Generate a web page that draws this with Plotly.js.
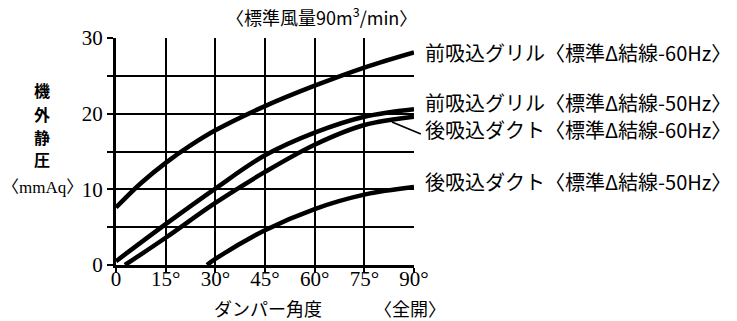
<!DOCTYPE html>
<html>
<head>
<meta charset="utf-8">
<script src="https://cdn.plot.ly/plotly-3.0.1.min.js"></script>
<style>html,body{margin:0;padding:0;background:#fff;}#chart{width:737px;height:321px;}</style>
</head>
<body>
<div id="chart"></div>
<script>
// Damper angle (degrees)
const xTickVals = [0, 15, 30, 45, 60, 75, 90];
const xTickText = ['0', '15°', '30°', '45°', '60°', '75°', '90°'];
const yTickVals = [0, 10, 20, 30];
const yTickText = ['0', '10', '20', '30'];

// 前吸込グリル〈標準Δ結線-60Hz〉
const frontGrille60x = [0, 7.5, 15, 22.5, 30, 45, 60, 75, 90];
const frontGrille60y = [7.6, 10.8, 13.5, 15.8, 17.8, 21.0, 23.7, 26.1, 28.1];
// 前吸込グリル〈標準Δ結線-50Hz〉
const frontGrille50x = [0, 15, 30, 45, 60, 75, 90];
const frontGrille50y = [0.5, 5.4, 10.1, 14.5, 17.5, 19.6, 20.6];
// 後吸込ダクト〈標準Δ結線-60Hz〉
const rearDuct60x = [2.7, 15, 30, 45, 60, 75, 90];
const rearDuct60y = [0, 3.6, 8.2, 12.3, 15.9, 18.5, 19.6];
// 後吸込ダクト〈標準Δ結線-50Hz〉
const rearDuct50x = [27.5, 30, 45, 60, 75, 90];
const rearDuct50y = [0, 0.8, 4.6, 7.4, 9.3, 10.3];

const seriesNames = [
  '前吸込グリル〈標準Δ結線-60Hz〉',
  '前吸込グリル〈標準Δ結線-50Hz〉',
  '後吸込ダクト〈標準Δ結線-60Hz〉',
  '後吸込ダクト〈標準Δ結線-50Hz〉'
];
const labelY = [0.934, 0.714, 0.595, 0.37];

// vertical y-axis title characters
const yTitleChars = ['機', '外', '静', '圧'];
const yTitleCharY = [0.769, 0.667, 0.566, 0.465];

const FONT = 'Liberation Serif, Noto Sans CJK JP, serif';
const CJK = 'Noto Sans CJK JP, Liberation Serif, serif';

const xs = [frontGrille60x, frontGrille50x, rearDuct60x, rearDuct50x];
const ys = [frontGrille60y, frontGrille50y, rearDuct60y, rearDuct50y];
const traces = xs.map((x, i) => ({
  x: x, y: ys[i], type: 'scatter', mode: 'lines', name: seriesNames[i],
  line: {color: '#000', width: 4.5, shape: 'spline', smoothing: 1},
  cliponaxis: true, hoverinfo: 'skip'
}));

const annotations = seriesNames.map((n, i) => ({
  text: n, xref: 'paper', yref: 'paper', x: 1.03, y: labelY[i],
  xanchor: 'left', yanchor: 'middle', showarrow: false,
  font: {family: CJK, size: 20, color: '#000'}
}));
annotations.push({
  text: '〈標準風量90m<sup>3</sup>/min〉', xref: 'paper', yref: 'paper', x: 0.69, y: 1.095,
  xanchor: 'center', yanchor: 'middle', showarrow: false,
  font: {family: CJK, size: 18, color: '#000'}
});
yTitleChars.forEach((c, i) => annotations.push({
  text: c, xref: 'paper', yref: 'paper', x: -0.248, y: yTitleCharY[i],
  xanchor: 'center', yanchor: 'middle', showarrow: false,
  font: {family: CJK, size: 16, color: '#000', weight: 700}
}));
annotations.push({
  text: '〈mmAq〉', xref: 'paper', yref: 'paper', x: -0.248, y: 0.34,
  xanchor: 'center', yanchor: 'middle', showarrow: false,
  font: {family: FONT, size: 17, color: '#000'}
});
annotations.push({
  text: 'ダンパー角度', xref: 'paper', yref: 'paper', x: 0.51, y: -0.19,
  xanchor: 'center', yanchor: 'middle', showarrow: false,
  font: {family: CJK, size: 18, color: '#000'}
});
annotations.push({
  text: '〈全開〉', xref: 'paper', yref: 'paper', x: 0.985, y: -0.19,
  xanchor: 'center', yanchor: 'middle', showarrow: false,
  font: {family: CJK, size: 18, color: '#000'}
});

// leader line from 後吸込ダクト 60Hz curve to its label
const shapes = [{
  type: 'line', xref: 'paper', yref: 'paper',
  x0: 0.926, y0: 0.630, x1: 1.023, y1: 0.577,
  line: {color: '#000', width: 1.8}
}];

const layout = {
  width: 737, height: 321,
  margin: {l: 116, r: 323, t: 38, b: 56, pad: 0},
  paper_bgcolor: '#fff', plot_bgcolor: '#fff',
  showlegend: false,
  xaxis: {
    range: [0, 90], tickvals: xTickVals, ticktext: xTickText,
    showgrid: true, gridcolor: '#000', gridwidth: 2,
    showline: true, linecolor: '#000', linewidth: 3, mirror: false,
    ticks: 'outside', ticklen: 5, tickwidth: 2, tickcolor: '#000',
    ticklabelstandoff: -12,
    zeroline: false, fixedrange: true,
    tickfont: {family: FONT, size: 21, color: '#000'}
  },
  yaxis: {
    range: [0, 30], tickvals: yTickVals, ticktext: yTickText,
    showgrid: true, gridcolor: '#000', gridwidth: 2,
    showline: true, linecolor: '#000', linewidth: 3, mirror: false,
    ticks: 'outside', ticklen: 6, tickwidth: 2, tickcolor: '#000',
    minor: {dtick: 5, ticks: 'outside', ticklen: 6, tickwidth: 2, tickcolor: '#000',
            showgrid: true, gridcolor: '#000', gridwidth: 2},
    zeroline: false, fixedrange: true,
    tickfont: {family: FONT, size: 21, color: '#000'}
  },
  shapes: shapes,
  annotations: annotations
};

Plotly.newPlot('chart', traces, layout, {staticPlot: true, displayModeBar: false});
</script>
</body>
</html>
